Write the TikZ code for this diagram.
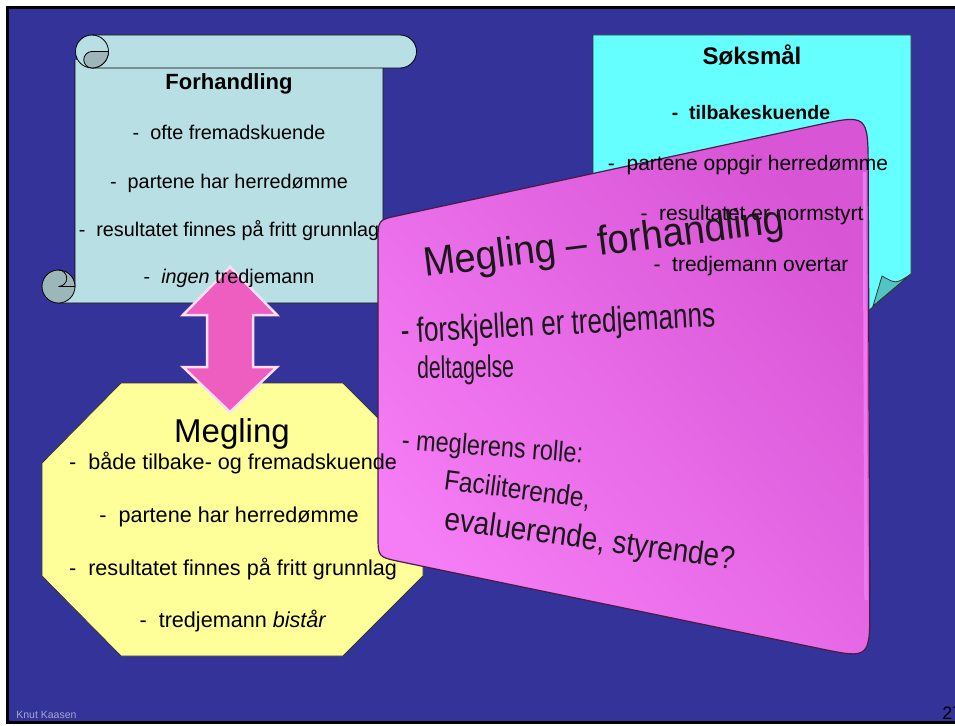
\documentclass[tikz,border=0pt]{standalone}
\usepackage{fontspec}
\setmainfont{Liberation Sans}
\usepackage{graphicx}
\definecolor{slideblue}{HTML}{333399}
\definecolor{scrollfill}{HTML}{B8E0E4}
\definecolor{curlgray}{HTML}{9CB6BA}
\definecolor{notecyan}{HTML}{66FFFF}
\definecolor{notefold}{HTML}{52C4C4}
\definecolor{octayellow}{HTML}{FFFF99}
\definecolor{arrowpink}{HTML}{EE5EC0}
\definecolor{arrowrim}{HTML}{FFDDF4}
\definecolor{cardlight}{HTML}{F57DF5}
\definecolor{carddark}{HTML}{D855D6}
\definecolor{cardrim}{HTML}{4A1A48}
\definecolor{cardstripe}{HTML}{EE78EE}
\definecolor{footgray}{HTML}{A6A6CC}
\newcommand{\fsz}[1]{\fontsize{#1}{#1}\selectfont}

\begin{document}
\begin{tikzpicture}[x=1pt,y=-1pt,line width=0.8pt,
  paper/.style={fill=scrollfill,draw=black},
  curl/.style={fill=curlgray,draw=black},
  notepaper/.style={fill=notecyan,draw=black!80},
  octa/.style={fill=octayellow,draw=black!80},
  dblarrow/.style={fill=arrowpink,draw=arrowrim,line width=2.5pt},
  cardshade/.style={top color=carddark,bottom color=cardlight,shading angle=-50,draw=cardrim,line width=1.2pt},
  txt/.style={anchor=base,inner sep=0pt},
  cardtxt/.style={anchor=base west,inner sep=0pt,text=black!90}]
\useasboundingbox (0,0) rectangle (955,725);
%% slide
\fill[white] (0,0) rectangle (955,725);
\fill[slideblue] (6,6) rectangle (955,724);
\draw[line width=3pt] (960,7.5) -- (7.5,7.5) -- (7.5,722.5) -- (960,722.5);
%% scroll (Forhandling)
\filldraw[paper] (75,60) -- (75,287) -- (58,287) -- (58,303) -- (377,303) .. controls (383,303) .. (383,297) -- (383,60);
\filldraw[curl] (58.5,286.5) circle (16.5);
\draw (58.5,286.5) -- (75,286.5);
\draw (58.5,286.5) arc(90:-90:8.25);
\filldraw[paper] (92,35) -- (400,35) arc(-90:90:16.5) -- (92,68) arc(90:270:16.5) -- cycle;
\draw (92,35) arc(-90:90:16.5);
\filldraw[curl] (108.5,51.5) arc(0:90:16.5) arc(90:270:8.25) -- cycle;
%% note (Soksmal)
\filldraw[notepaper] (593,35) -- (911,35) -- (911,274) -- (860,318) -- (593,318) -- cycle;
\filldraw[fill=notefold,draw=black!80] (911,274) .. controls (896,284) .. (882,276) -- (873,306) -- cycle;
%% octagon (Megling)
\filldraw[octa] (121,383) -- (343,383) -- (423,463) -- (423,576) -- (343,656) -- (121,656) -- (42,576) -- (42,463) -- cycle;
%% the double arrow
\filldraw[dblarrow] (230,267) -- (277,315) -- (253,315) -- (253,367) -- (277,367) -- (230,412) -- (183,367) -- (207,367) -- (207,315) -- (183,315) -- cycle;
%% card
\shadedraw[cardshade] (378,400) -- (378,242) .. controls (378,220) .. (397.5,215.8) -- (814.3,125.6) .. controls (868,114) .. (868.2,169) -- (869.8,604) .. controls (870,659) .. (819,648.4) -- (399.5,561.5) .. controls (378,557) .. (378,535) -- cycle;
\draw[cardstripe,line width=3.5pt] (864.5,172) -- (866,600);
%% scroll text
\node[txt,font=\bfseries\fsz{22}] (forhtitle) at (229,89) {Forhandling};
\node[txt,font=\fsz{19.8}] (forh1) at (229,139) {-\ \ ofte fremadskuende};
\node[txt,font=\fsz{19.8}] (forh2) at (229,188) {-\ \ partene har herredømme};
\node[txt,font=\fsz{19.8}] (forh3) at (229,236) {-\ \ resultatet finnes på fritt grunnlag};
\node[txt,font=\fsz{19.8}] (forh4) at (229,283) {-\ \ \textit{ingen} tredjemann};
%% note text
\node[txt,font=\bfseries\fsz{24}] (soktitle) at (752,64) {Søksmål};
\node[txt,font=\bfseries\fsz{19.5}] (sok1) at (751,119) {-\ \ tilbakeskuende};
\node[txt,font=\fsz{21}] (sok2) at (748,170) {-\ \ partene oppgir herredømme};
\node[txt,font=\fsz{21}] (sok3) at (752,220) {-\ \ resultatet er normstyrt};
\node[txt,font=\fsz{21}] (sok4) at (751,271) {-\ \ tredjemann overtar};
%% octagon text
\node[txt,font=\fsz{33}] (megtitle) at (232,442) {Megling};
\node[txt,font=\fsz{21.6}] (meg1) at (233,469) {-\ \ både tilbake- og fremadskuende};
\node[txt,font=\fsz{21.6}] (meg2) at (229,522) {-\ \ partene har herredømme};
\node[txt,font=\fsz{21.6}] (meg3) at (233,575) {-\ \ resultatet finnes på fritt grunnlag};
\node[txt,font=\fsz{21.6}] (meg4) at (233,627) {-\ \ tredjemann \textit{bistår}};
%% card text
\node[cardtxt,font=\fsz{38},rotate=7,yscale=1.08] (cardtitle) at (425,277) {Megling \textendash{} forhandling};
\node[cardtxt,font=\fsz{29},rotate=3,xscale=0.9,yscale=1.2] (card1) at (401,343) {- forskjellen er tredjemanns};
\node[cardtxt,font=\fsz{25},rotate=1,xscale=0.85,yscale=1.25] (card2) at (417,379) {deltagelse};
\node[cardtxt,font=\fsz{23.5},rotate=-4.5,yscale=1.2] (card3) at (401,449) {- meglerens rolle:};
\node[cardtxt,font=\fsz{24.5},rotate=-7.5,yscale=1.15] (card4) at (443,489) {Faciliterende,};
\node[cardtxt,font=\fsz{28},rotate=-7.9,yscale=1.15] (card5) at (443,529) {evaluerende, styrende?};
%% footer
\node[anchor=base west,inner sep=0pt,font=\fsz{10.5},text=footgray] (author) at (16,718) {Knut Kaasen};
\node[anchor=base west,inner sep=0pt,font=\fsz{18}] (pageno) at (942,719) {27};
\end{tikzpicture}
\end{document}
